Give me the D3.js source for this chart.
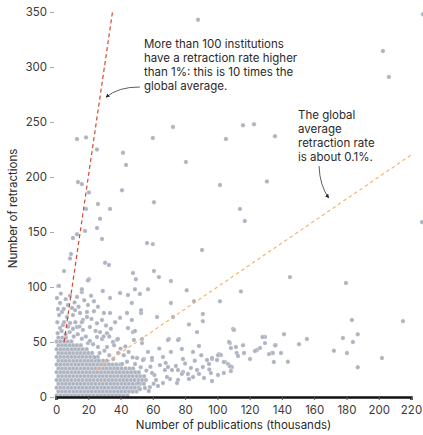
<!DOCTYPE html>
<html>
<head>
<meta charset="utf-8">
<script src="https://cdn.jsdelivr.net/npm/d3@7"></script>
<style>
  body { margin: 0; background: #fff; }
  svg text { font-family: Inter, "Noto Sans", sans-serif; }
</style>
</head>
<body>
<svg id="chart" width="423" height="435"></svg>
<script>
const xTicks = [0, 20, 40, 60, 80, 100, 120, 140, 160, 180, 200, 220];
const yTicks = [0, 50, 100, 150, 200, 250, 300, 350];

// retraction rates, publications in thousands
const rateLines = [
  { id: 'high', rate: 0.01, from: 5, to: 35 },
  { id: 'global', rate: 0.001, from: 25, to: 220 },
];

const noteHigh = ["More than 100 institutions", "have a retraction rate higher", "than 1%: this is 10 times the", "global average."];
const noteGlobal = ["The global", "average", "retraction rate", "is about 0.1%."];

// dense core, one row per retraction level: [retractions, [publications...]]
const coreRows = [
  [1.5, [0.4,2.7,5.1,7.3,9.6,11.8,14.2,16.5,18.9,21.1,23.4,25.8,28,30.3,32.7,34.9,37.3,39.6,41.8,44.2]],
  [5, [1.5,3.8,6.1,8.4,10.8,13,15.3,17.7,19.9,22.2,24.6,26.8,29.1,31.5,33.7,36,38.4,40.6,42.9,45.3,47.6,49.9]],
  [8.5, [0.4,2.7,5,7.4,9.6,11.9,14.3,16.5,18.8,21.2,23.4,25.7,28.1,30.3,32.6,35,37.2,39.5,41.9,44.1,46.5,48.8,51.2]],
  [12, [1.5,3.9,6.1,8.4,10.7,13.1,15.3,17.6,20,22.2,24.5,26.9,29.1,31.4,33.8,36,38.3,40.7,42.9,45.2,47.6,49.8,52.2,54.5]],
  [15.5, [0.4,2.7,5.1,7.3,9.6,12,14.2,16.5,18.9,21.1,23.4,25.8,28,30.3,32.7,34.9,37.2,39.6,41.8,44.1,46.5,48.7,51.1,53.4,55.7]],
  [19, [1.5,3.8,6.2,8.4,10.7,13.1,15.3,17.6,20,22.2,24.5,26.9,29.1,31.4,33.8,36,38.3,40.7,42.9,45.3,47.6,50,52.3,54.6]],
  [22.5, [0.4,2.8,5,7.3,9.7,11.9,14.2,16.6,18.8,21.1,23.5,25.7,28,30.4,32.6,34.9,37.3,39.5,41.9,44.2,46.6,49,51.3]],
  [26, [1.5,3.8,6.1,8.5,10.7,13,15.4,17.6,19.9,22.3,24.5,26.8,29.2,31.4,33.7,36.1,38.3,40.7,43.1,45.5,47.8]],
  [29.5, [0.4,2.7,5.1,7.3,9.6,12,14.2,16.5,18.9,21.1,23.4,25.8,28,30.3,32.8,35,37.4,39.8]],
  [33, [1.5,3.9,6.1,8.4,10.8,13,15.3,17.7,19.9,22.2,24.6,26.9,29.2,31.6]],
  [36.5, [0.4,2.7,5,7.4,9.6,11.9,14.3,16.5,18.8,21.2,23.5,25.9]],
  [40, [1.5,3.8,6.2,8.4,10.7,13.1,15.3,17.6,20,22.4]],
  [43.5, [0.4,2.8,5,7.3,9.7,11.9,14.2,16.6,19]],
  [47, [1.5,3.8,6.1,8.5,10.7,13,15.4]],
  [50.5, [0.4,2.7,5.1,7.3,9.6]],
  [54, [1.5,3.9,6.1]],
];

// fringe of the core: [publications (thousands), retractions]
const fringe = [
  [1.4,101],[5,114.5],[20.4,107],[2.5,85.5],[8.7,92],[7.4,83.6],[13,91],[16,95.5],[21.7,92],[29,96.4],
  [33.5,90],[39.7,94.5],[19.8,83.6],[23.5,87],[29.7,76.4],[33.5,76.4],[36.6,68],[39.7,72],[25.4,67],[21,63.6],
  [27.3,59],[31.6,58],[37.8,52],[38.4,52.7],[35.3,50],[28.5,52.7],[25.4,54.5],[31.6,45.5],[26,45.5],[19.8,49],
  [16.7,61],[16.7,70],[14.9,76.4],[11.8,79],[9.9,81],[10.5,74.5],[6.8,72.7],[3.7,77.3],[1.9,74.5],[4.3,65.5],
  [2.5,62.7],[8.7,67.3],[13,63.6],[19.2,72.7],[19.2,77.3],[16,68],[1,58],[3.5,60],[6,57],[8.5,59],
  [11,55],[13.5,57],[16,53],[18.5,55],[21,51],[23,48],[5,68],[7.5,64],[10.5,62],[12,68],
  [14.5,64],[0.8,68],[1.2,80],[4.8,80],[0.6,90],[3,94],[11.5,86],[6,89],[14,82],[17.5,88],
  [23.5,78],[26,82],[22,71],[28.5,70],[31,65],[34,62],[24.5,60],[29.5,55],[33,55],[36,47],
  [40,44],[43,46],[38.5,40],[42,38],[45,41],[47.5,36],[27,40],[30,42],[33,38],[35.5,34.5],
  [24,36],[26.5,33],[44.6,92.7],[47,85.5],[44,76.4],[47,70],[44.6,62.7],[47.7,59],[1.9,101],[16,98],
  [19.8,106],[41,30],[44,32],[49,30],[52.5,27],[56,24],[58.5,27.5],[61,20],[60.5,12],[57.5,5.5],
];

// band beyond the core
const band = [
  [50.2,35.5],[54.5,34.5],[59.5,33.6],[64.4,29],[69.4,27.3],[67.5,24.5],[74.3,28.2],[71.9,24.5],[75.6,24.5],[78.7,22.7],
  [83.6,26.4],[87.4,24.5],[91,27.3],[94.8,30],[96.7,34.5],[99.8,33.6],[101,39],[102.2,38.2],[104.7,31.8],[106.6,30],
  [109,27.3],[108.4,23.6],[104,21.8],[100.4,20],[96,21.8],[91.7,17.3],[96.7,14.5],[88.6,21],[84.9,18.2],[81.8,21],
  [82.4,16.4],[78,21],[75.6,15.5],[75,12.7],[70.6,16.4],[68.8,18.2],[66.3,12.7],[63.2,10],[62,15.5],[59.5,21.8],
  [58.2,9],[55.1,8.2],[52,7.3],[50.8,12.7],[52.7,76.4],[53.3,52.7],[53.3,49],[48.3,51.8],[109.7,61.8],[129.5,54.5],
  [107.8,49],[111.5,45.5],[115.9,47],[129.5,49],[126.4,44.5],[124.5,42.7],[123.3,41.8],[120.2,34.5],[112,40],[112.8,37.3],
  [116.5,40],[133.8,40],[135,31.8],[114.6,96],[101.6,87],[85.5,87],[71.2,85.5],[81,97],[91,75.5],[91,69],
  [82.4,66],[110.3,61],[88.6,46.4],[107.2,50],[108.4,44.5],[78,43.6],[84.9,41],[71.2,41],[100.4,38],[96.7,35.5],
  [93.6,33.6],[104,31.8],[107.8,28],[66.3,36.4],[78.7,34.5],[59.5,35.5],[53.9,33.6],[72.5,72.7],[62.6,72.7],[70,52.7],
  [76.2,52.7],[87.4,59],[69.4,51.8],[75.6,51.8],[60.7,114.5],[63.8,109],[71.2,105.5],[48.9,98],[57,98],[52,93.6],
  [52.7,79],[48.9,60],[145,109],[179.7,103.6],[183.4,70],[215,69],[141.3,57],[187,57],[155.5,52.7],[177.8,53.6],
  [184,50],[150.6,48],[135.7,47],[172.2,42],[180.3,40],[134.4,40],[139.4,40],[202,35.5],[143.7,32],[187,27],
  [132,39],[136,47],[128,54.5],[57,41],[64,44],[68,31],[80,30.5],[86,33],[90,38],[95,25],
];

// high-retraction outliers
const outliers = [
  [88,343],[202.6,314.5],[206.3,291],[227.4,348],[226.8,159],[13,234.5],[18.6,236],[25.4,225],[41.5,222],[43.4,211],
  [13.6,195.5],[16,193.6],[20.4,186],[40.9,188],[18.6,171],[26,175.5],[33.5,171],[27.3,162],[25.4,153.6],[13,148],
  [18,151],[10.5,144.5],[28.5,143.6],[9.3,130],[8.7,126],[30.4,122],[32.8,120],[60,235.5],[105.3,234.5],[135.7,237],
  [80.5,213.6],[101.6,192.7],[130.7,196],[60.7,177],[114,171],[117,160],[56.4,140],[60,139],[90.5,133.6],[72.5,245.5],
  [115.9,247],[122.7,248],[47.7,112.7],[49.5,107],
];

const institutions = coreRows
  .flatMap(([r, pubs]) => pubs.map(p => [p, r]))
  .concat(fringe, band, outliers);

function chart_setup() {
  const svg = d3.select('#chart');

  const x = d3.scaleLinear().domain([0, 220]).range([56, 411]);
  const y = d3.scaleLinear().domain([0, 350]).range([397, 12]);

  // Y AXIS
  //
  const ya = svg.append('g').attr('transform', `translate(${x(0)},0)`)
    .call(d3.axisLeft(y).tickValues(yTicks).tickSize(4).tickPadding(5));

  ya.select('.domain').remove();
  ya.selectAll('.tick line')
    .attr('x1', -6).attr('x2', -2)
    .attr('stroke', "#aaa");
  ya.selectAll('.tick text')
    .attr('fill', "#3a3a3a")
    .attr('font-size', 11.5);

  // POINTS
  //
  svg.append('g').attr('id', "points")
    .selectAll('circle')
    .data(institutions).enter()
    .append('circle')
    .attr('cx', d => x(d[0]))
    .attr('cy', d => y(d[1]))
    .attr('r', 2.2)
    .attr('fill', "#adb3c1")
    .attr('stroke', "#fff")
    .attr('stroke-width', 0.35)
    .attr('stroke-opacity', 0.8);

  // RATE LINES
  //
  const line = d3.line().x(d => x(d[0])).y(d => y(d[1]));

  const styles = {
    high: { stroke: "#d8452f", dash: "4,3" },
    global: { stroke: "#f7b46c", dash: "3.5,3" },
  };

  rateLines.forEach(l => {
    svg.append('path')
      .attr('d', line([[l.from, l.rate * l.from * 1000], [l.to, l.rate * l.to * 1000]]))
      .attr('fill', "none")
      .attr('stroke', styles[l.id].stroke)
      .attr('stroke-width', 1.2)
      .attr('stroke-dasharray', styles[l.id].dash);
  });

  // X AXIS
  //
  const xa = svg.append('g').attr('transform', `translate(0,${y(0)})`)
    .call(d3.axisBottom(x).tickValues(xTicks).tickSize(3).tickPadding(6));

  xa.select('.domain')
    .attr('stroke', "#111")
    .attr('stroke-width', 2.4);
  xa.selectAll('.tick line').attr('stroke', "#555");
  xa.selectAll('.tick text')
    .attr('fill', "#3a3a3a")
    .attr('font-size', 11.5);

  // TITLES
  //
  svg.append('text')
    .attr('x', (x(0) + x(220)) / 2)
    .attr('y', 429)
    .attr('text-anchor', "middle")
    .attr('font-size', 11.5)
    .attr('fill', "#2a2a2a")
    .text("Number of publications (thousands)");

  svg.append('text')
    .attr('transform', `translate(17,${(y(0) + y(350)) / 2 + 4}) rotate(-90)`)
    .attr('text-anchor', "middle")
    .attr('font-size', 11.5)
    .attr('fill', "#2a2a2a")
    .text("Number of retractions");

  // ANNOTATIONS
  //
  svg.append('defs').append('marker')
    .attr('id', "arrow")
    .attr('viewBox', "0 0 10 10")
    .attr('refX', 9).attr('refY', 5)
    .attr('markerWidth', 5).attr('markerHeight', 5)
    .attr('orient', "auto")
    .append('path')
    .attr('d', "M0,0L10,5L0,10z")
    .attr('fill', "#222");

  const note = (lines, px, py) => {
    const t = svg.append('text')
      .attr('font-size', 11.5)
      .attr('fill', "#2a2a2a");
    lines.forEach((s, i) => {
      t.append('tspan')
        .attr('x', x(px))
        .attr('y', y(py) + i * 14)
        .text(s);
    });
  };

  note(noteHigh, 54.5, 317);
  note(noteGlobal, 150, 252.5);

  const arrow = (a, c, b) => {
    const p = d3.path();
    p.moveTo(x(a[0]), y(a[1]));
    p.quadraticCurveTo(x(c[0]), y(c[1]), x(b[0]), y(b[1]));
    svg.append('path')
      .attr('d', p.toString())
      .attr('fill', "none")
      .attr('stroke', "#333")
      .attr('stroke-width', 0.8)
      .attr('marker-end', "url(#arrow)");
  };

  arrow([52, 281.8], [38.5, 282], [31, 272.5]);
  arrow([163, 210], [163.5, 192], [169, 181]);
}

chart_setup();
</script>
</body>
</html>
